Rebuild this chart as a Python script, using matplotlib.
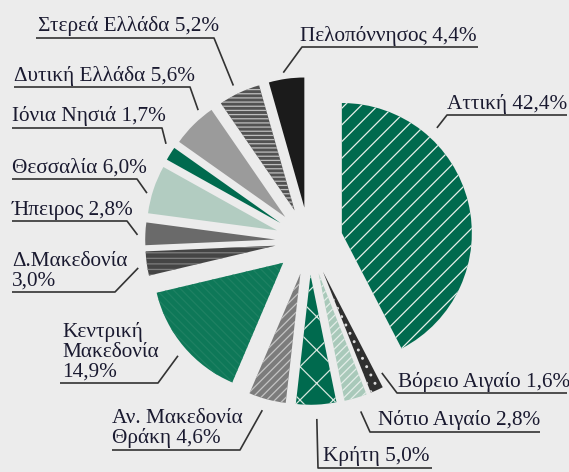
import numpy as np
import matplotlib
matplotlib.use('Agg')
import matplotlib.pyplot as plt

#==========================
# DATA
#==========================
regions = ['Αττική', 'Βόρειο Αιγαίο', 'Νότιο Αιγαίο', 'Κρήτη', 'Αν. Μακεδονία\nΘράκη',
           'Κεντρική\nΜακεδονία', 'Δ.Μακεδονία', 'Ήπειρος', 'Θεσσαλία', 'Ιόνια Νησιά',
           'Δυτική Ελλάδα', 'Στερεά Ελλάδα', 'Πελοπόννησος']
shares = [42.4, 1.6, 2.8, 5.0, 4.6, 14.9, 3.0, 2.8, 6.0, 1.7, 5.6, 5.2, 4.4]
pct_sep = [' ', ' ', ' ', ' ', ' ', '\n', '\n', ' ', ' ', ' ', ' ', ' ', ' ']

#==========================
# STYLE
#==========================
fills = ['#006a4e', '#2f2f2f', '#a9c9ba', '#006a4e', '#7c7c7c', '#0e7858', '#454545',
         '#6a6a6a', '#b2ccc1', '#006a4e', '#9b9b9b', '#525252', '#1b1b1b']
hatches = ['//', '..', '////', 'x', '////', '\\\\\\\\', '---', '', '', '', '', '----', '']
hatch_cols = ['#e6efea', '#dddddd', '#e4eee9', '#d6e6de', '#c4c4c4', '#1f8163', '#7e7e7e',
              fills[7], fills[8], fills[9], fills[10], '#bdbdbd', fills[12]]

# label layout in image pixels (x right, y down)
lab_x = [447, 398, 378, 323, 112, 62, 12, 12, 12, 12, 14, 38, 300]
line_y = [115, 393, 432, 468, 450, 383, 292, 221, 179, 128, 87, 38, 47]
line_x0 = [447, 397, 370, 318, 112, 60, 12, 12, 12, 12, 14, 36, 302]
line_x1 = [567, 567, 540, 432, 240, 158, 115, 127, 137, 162, 190, 214, 478]
on_left = [False, False, False, False, True, True, True, True, True, True, True, True, False]
anc_frac = [0.276, -0.49, 0.46, 0.5, 0.55, 0.475, 0.38, 0.44, 0.39, 0.9, 0.77, 0.45, 0.44]
anc_r = [1.09, 0.9, 1.11, 1.11, 1.09, 1.08, 1.07, 1.06, 1.04, 1.07, 1.06, 1.07, 1.05]

W, H = 569, 472
R = 130
bg = '#ececec'
txt_col = '#1a1a30'
plt.rcParams['hatch.linewidth'] = 0.9

fig = plt.figure(figsize=(W / 100, H / 100), dpi=100)
fig.patch.set_facecolor(bg)
ax = fig.add_axes([0, 0, 1, 1])
ax.set_facecolor(bg)

# y axis runs downwards, so start at -90 and go counterclockwise = clockwise from top on screen
# pie's explode is in data units here, so scale it with the radius
wedges, _ = ax.pie(shares, colors=fills, startangle=-90, counterclock=True,
                   radius=R, center=(309, 241), explode=[0.26 * R] * len(shares),
                   wedgeprops=dict(linewidth=0))
for w, h, hc in zip(wedges, hatches, hatch_cols):
    if h:
        w.set_hatch(h)
    w.set_edgecolor(hc)
    w.set_linewidth(0)

ax.set_xlim(0, W)
ax.set_ylim(H, 0)
ax.set_aspect('equal')
ax.axis('off')

for i, w in enumerate(wedges):
    t = np.deg2rad(w.theta1 + anc_frac[i] * (w.theta2 - w.theta1))
    ax_, ay_ = w.center[0] + anc_r[i] * w.r * np.cos(t), w.center[1] + anc_r[i] * w.r * np.sin(t)
    if on_left[i]:
        xs = [line_x0[i], line_x1[i], ax_]
    else:
        xs = [line_x1[i], line_x0[i], ax_]
    ys = [line_y[i], line_y[i], ay_]
    ax.plot(xs, ys, color='#333333', lw=1.2, solid_capstyle='butt')
    label = regions[i] + pct_sep[i] + ('%.1f%%' % shares[i]).replace('.', ',')
    ax.text(lab_x[i], line_y[i] - 1.5, label, ha='left', va='bottom',
            fontsize=15.3, family='Liberation Serif', color=txt_col, linespacing=1.05)

fig.savefig('out.png', dpi=100, facecolor=bg)
